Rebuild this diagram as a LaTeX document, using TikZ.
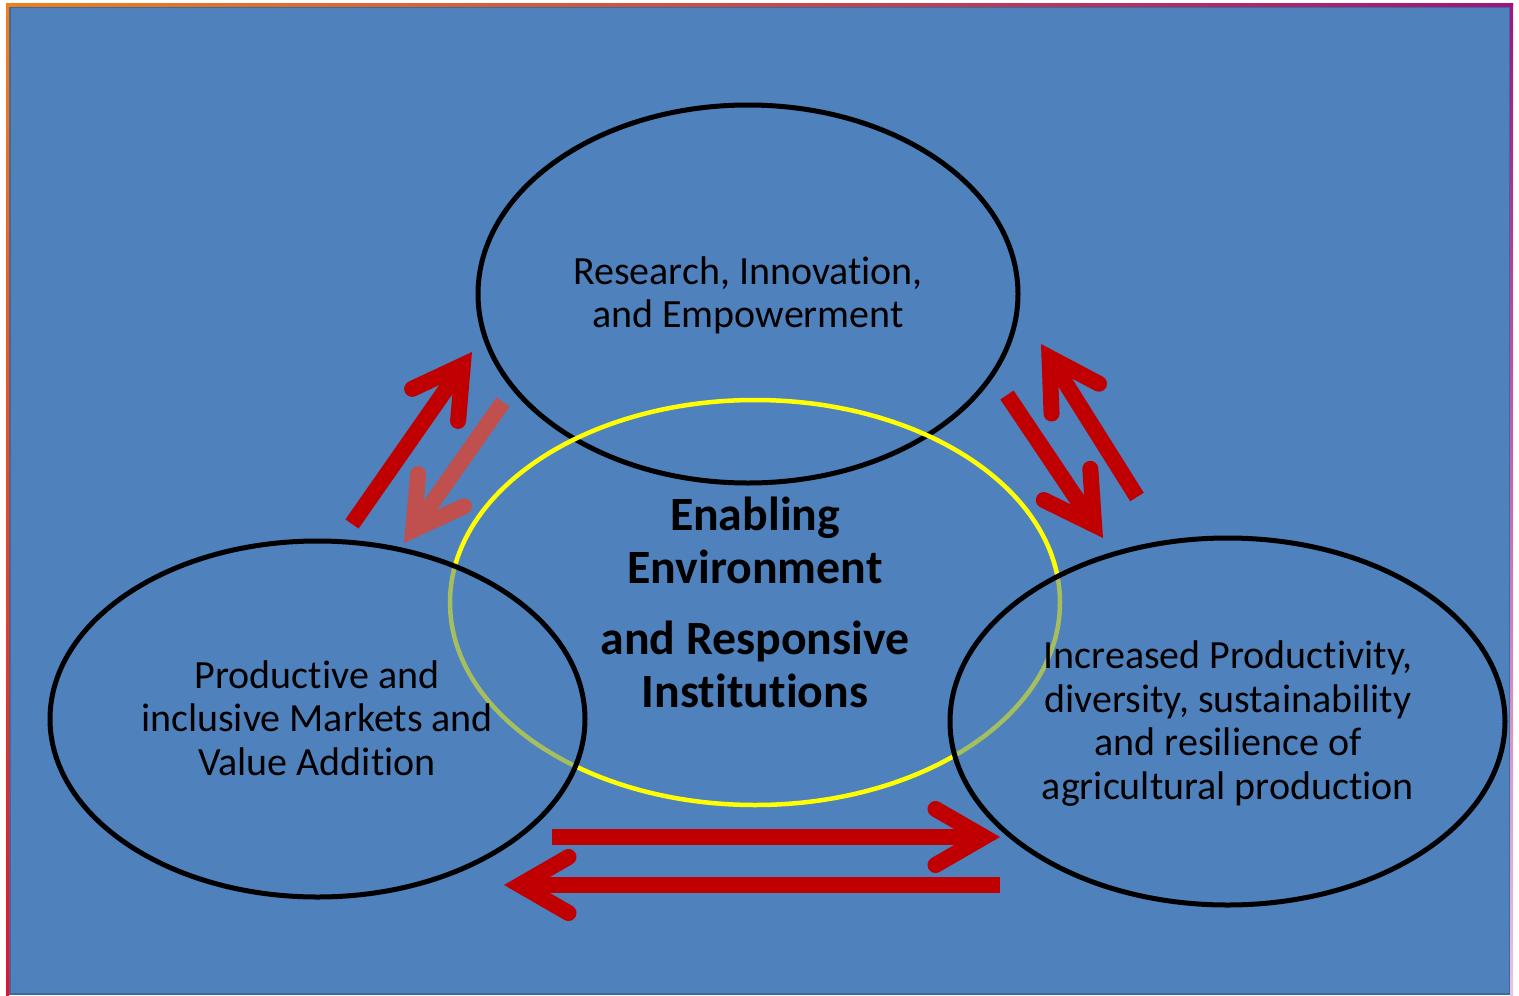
\documentclass[tikz,border=0pt]{standalone}
\usepackage{fontspec}
\setmainfont[RawFeature=-liga]{Carlito}
\usetikzlibrary{calc,shapes.geometric}
\definecolor{bgblue}{HTML}{4F81BD}
\definecolor{edgeblue}{HTML}{3D6A9E}
\definecolor{darkred}{HTML}{C00000}
\definecolor{lightred}{HTML}{C0504D}
\definecolor{bordorange}{HTML}{F07F1C}
\definecolor{bordred}{HTML}{E8102A}
\definecolor{bordpurple}{HTML}{A0157A}
\definecolor{ringyellow}{HTML}{FFFF00}
\tikzset{
  ring/.style={ellipse, draw=black, line width=5pt, inner sep=0pt},
  centerring/.style={ellipse, draw=ringyellow, line width=4.5pt, inner sep=0pt},
  label/.style={align=center, font=\fontsize{40}{43.5}\selectfont, inner sep=0pt},
  biglabel/.style={align=center, font=\bfseries\fontsize{47.8}{52.5}\selectfont, inner sep=0pt},
  shaft/.style={line width=16pt, line cap=butt},
  chev/.style={line width=16pt, line cap=round, line join=miter},
}
\newcommand{\redarrow}[3]{%
  \coordinate (#2v) at ($(#2)!16pt!(#1)$);
  \draw[shaft,#3] (#1) -- (#2v);
  \draw[chev,#3] ($(#2v)!56pt!30:(#1)$) -- (#2v) -- ($(#2v)!56pt!-30:(#1)$);
}
\begin{document}
\begin{tikzpicture}[x=1pt,y=-1pt]
\useasboundingbox (0,0) rectangle (1519,996);
\fill[white] (0,0) rectangle (1519,996);
% frame
\fill[bgblue] (9,6) rectangle (1511,995);
\draw[edgeblue, line width=2pt] (10,7) rectangle (1510,994);
\shade[left color=bordorange, middle color=bordred, right color=bordpurple] (6,3.5) rectangle (1513,6.5);
\shade[top color=bordorange, bottom color=bordred] (6,3.5) rectangle (9,995);
\shade[top color=bordpurple, bottom color=bordpurple!25] (1510,3.5) rectangle (1513,995);

% top ellipse (below yellow)
\node[ring, minimum width=540pt, minimum height=378pt] (research) at (748,294) {};
% yellow centre ellipse
\node[centerring, minimum width=610pt, minimum height=405pt] (enabling) at (755,602.5) {};
% side ellipses with translucent fill
\node[ring, fill=bgblue, fill opacity=0.5, minimum width=535pt, minimum height=356pt] (markets) at (317.5,719) {};
\node[ring, fill=bgblue, fill opacity=0.5, minimum width=555pt, minimum height=367pt] (production) at (1227.5,721.5) {};

% texts
\node[label] (researchtext) at (748,295.5) {Research, Innovation,\\and Empowerment};
\node[label] (marketstext) at (317,718) {Productive and\\inclusive Markets and\\Value Addition};
\node[label] (productiontext) at (1228,723.5) {Increased Productivity,\\diversity, sustainability\\and resilience of\\agricultural production};
\node[biglabel] (enablingtext) at (755,602.5) {Enabling\\Environment\\[19pt]and Responsive\\Institutions};

% arrow end points
\coordinate (aTail) at (352,524);  \coordinate (aTip) at (472,352);
\coordinate (bTail) at (503,402);  \coordinate (bTip) at (404,543);
\coordinate (cTail) at (1007,395); \coordinate (cTip) at (1103,538);
\coordinate (dTail) at (1137,497); \coordinate (dTip) at (1041,344);
\coordinate (eTail) at (552,837);  \coordinate (eTip) at (1000,837);
\coordinate (fTail) at (1000,885); \coordinate (fTip) at (504,885);

\redarrow{aTail}{aTip}{darkred}
\redarrow{bTail}{bTip}{lightred}
\redarrow{cTail}{cTip}{darkred}
\redarrow{dTail}{dTip}{darkred}
\redarrow{eTail}{eTip}{darkred}
\redarrow{fTail}{fTip}{darkred}
\end{tikzpicture}
\end{document}
